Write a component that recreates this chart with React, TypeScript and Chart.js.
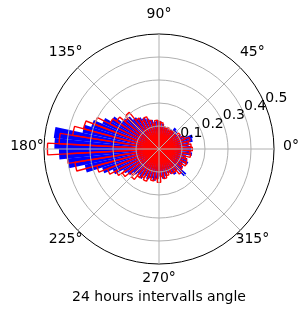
import React, { useEffect, useRef } from 'react';
import { Chart, registerables } from 'chart.js';

Chart.register(...registerables);

// Angle labels, clockwise starting at east (matplotlib convention: counter-clockwise from east)
const angleLabels = ['0°', '315°', '270°', '225°', '180°', '135°', '90°', '45°'];
const radialTicks = [0.1, 0.2, 0.3, 0.4, 0.5];
const binWidthDeg = 6;
const titleText = '24 hours intervalls angle';

// Blue histogram: bins [6k, 6k+6) degrees, counter-clockwise from 0°
const blueValues = [
  0.14, 0.13, 0.15, 0.155, 0.12, 0.11, 0.10, 0.11, 0.115, 0.10,
  0.09, 0.095, 0.10, 0.11, 0.12, 0.125, 0.12, 0.13, 0.14, 0.15,
  0.16, 0.17, 0.19, 0.20, 0.24, 0.27, 0.31, 0.34, 0.46, 0.455,
  0.435, 0.40, 0.33, 0.26, 0.22, 0.18, 0.17, 0.15, 0.14, 0.15,
  0.13, 0.14, 0.13, 0.14, 0.13, 0.12, 0.13, 0.12, 0.11, 0.12,
  0.13, 0.12, 0.16, 0.13, 0.12, 0.14, 0.13, 0.12, 0.145, 0.14,
];

// Red histogram: bins centred on 6k degrees
const redValues = [
  0.145, 0.14, 0.13, 0.14, 0.12, 0.10, 0.11, 0.09, 0.10, 0.095,
  0.09, 0.10, 0.095, 0.10, 0.115, 0.12, 0.125, 0.11, 0.13, 0.15,
  0.14, 0.16, 0.205, 0.19, 0.22, 0.24, 0.30, 0.34, 0.38, 0.435,
  0.485, 0.40, 0.37, 0.28, 0.24, 0.21, 0.19, 0.16, 0.17, 0.15,
  0.14, 0.15, 0.13, 0.14, 0.13, 0.145, 0.12, 0.13, 0.12, 0.11,
  0.12, 0.12, 0.14, 0.13, 0.12, 0.135, 0.13, 0.12, 0.14, 0.135,
];

const FONT = '"DejaVu Sans", sans-serif';

const labelPlugin = {
  id: 'polarLabels',
  afterDraw(chart: any) {
    const s = chart.scales.r;
    const ctx = chart.ctx;
    ctx.save();
    ctx.font = `14px ${FONT}`;
    ctx.fillStyle = '#000';
    ctx.textAlign = 'center';
    ctx.textBaseline = 'middle';
    angleLabels.forEach((lab, i) => {
      const p = s.getPointPosition(i, s.drawingArea + 17);
      ctx.fillText(lab, p.x, p.y - 3);
    });
    ctx.textAlign = 'left';
    ctx.textBaseline = 'bottom';
    const a = (22.5 * Math.PI) / 180;
    radialTicks.forEach((v) => {
      const d = s.getDistanceFromCenterForValue(v);
      ctx.fillText(v.toFixed(1), s.xCenter + d * Math.cos(a), s.yCenter - d * Math.sin(a));
    });
    ctx.restore();
  },
};

export default function App() {
  const ref = useRef<HTMLCanvasElement>(null);
  useEffect(() => {
    if (!ref.current) return;
    const blueChart = [...blueValues].reverse();
    const redChart = [0, ...[...redValues].reverse()];
    const chart = new Chart(ref.current, {
      type: 'polarArea',
      data: {
        labels: angleLabels,
        datasets: [
          {
            label: 'red',
            data: redChart,
            backgroundColor: 'rgba(0,0,0,0)',
            borderColor: '#ff0000',
            borderWidth: 1.4,
            angle: (c: any) => (c.dataIndex === 0 ? binWidthDeg / 2 : binWidthDeg),
          } as any,
          {
            label: 'blue',
            data: blueChart,
            backgroundColor: '#0000ff',
            borderColor: '#0000ff',
            borderWidth: 0,
            angle: binWidthDeg,
          } as any,
        ],
      },
      options: {
        responsive: false,
        animation: false,
        devicePixelRatio: 1,
        layout: { padding: { left: 44, right: 31, top: 21, bottom: 0 } },
        plugins: {
          legend: { display: false },
          tooltip: { enabled: false },
          title: {
            display: true,
            position: 'bottom',
            text: titleText,
            color: '#000',
            font: { family: FONT, size: 14, weight: 'normal' },
            padding: { top: 12, bottom: 8 },
          },
        },
        scales: {
          r: {
            type: 'radialLinear',
            startAngle: 90,
            min: 0,
            max: 0.5,
            ticks: { display: false, stepSize: 0.1 },
            pointLabels: { display: false },
            angleLines: { display: true, color: '#b0b0b0', lineWidth: 1 },
            grid: {
              z: 1,
              circular: true,
              color: (c: any) => (c.tick && Math.abs(c.tick.value - 0.5) < 1e-6 ? '#000' : '#b0b0b0'),
              lineWidth: 1,
            },
          } as any,
        },
      } as any,
      plugins: [labelPlugin],
    });
    return () => chart.destroy();
  }, []);
  return (
    <div style={{ position: 'absolute', left: 0, top: 0, width: 305, height: 314 }}>
      <canvas ref={ref} width={305} height={314} style={{ display: 'block' }} />
    </div>
  );
}
